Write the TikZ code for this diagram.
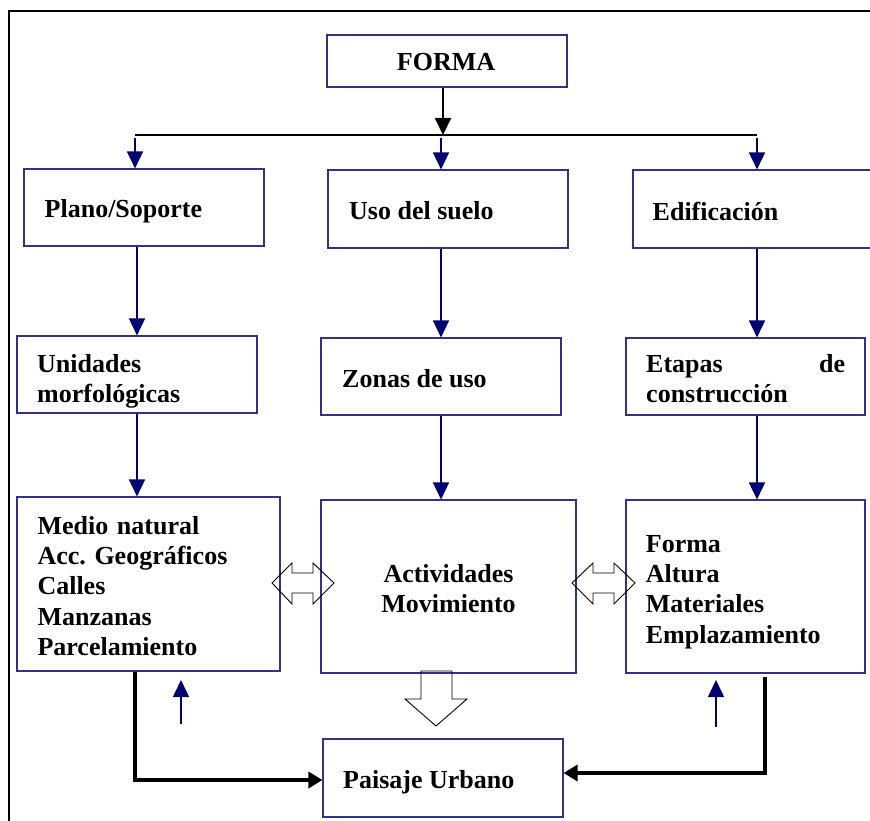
\documentclass[tikz,border=0pt]{standalone}
\usepackage{fontspec}
\setmainfont{Liberation Serif}
\usetikzlibrary{arrows.meta}
\definecolor{boxc}{RGB}{50,50,130}
\definecolor{navyc}{RGB}{0,0,110}
\begin{document}
\frenchspacing
\begin{tikzpicture}[x=1pt,y=-1pt,
  box/.style={draw=boxc,line width=1.1pt,inner sep=0pt,minimum width=240pt,minimum height=77pt},
  txt/.style={inner sep=0pt,anchor=base west,align=left,
    font=\fontsize{26}{30.4}\selectfont\bfseries},
  narr/.style={draw=navyc,line width=1.6pt,-{Triangle[width=16pt,length=17pt]},fill=navyc},
  barr/.style={draw=black,line width=2pt,-{Triangle[width=16pt,length=17pt]}},
  thickarr/.style={draw=black,line width=3.5pt,-{Triangle[width=16pt,length=14pt]}},
  hollow/.style={draw=black,line width=0.9pt}]
\useasboundingbox (0,0) rectangle (870,821);
\fill[white] (0,0) rectangle (870,821);
% frame
\draw[line width=1.2pt] (9,821) -- (9,11) -- (870,11);
% boxes
\node[box,minimum height=52pt] (forma) at (447,61) {};
\node[box] (plano) at (144,207.5) {};
\node[box,minimum height=78pt] (uso) at (448,209) {};
\node[box,minimum width=247pt,minimum height=78pt] (edif) at (756.5,209) {};
\node[box] (unid) at (137,374.5) {};
\node[box] (zonas) at (441,376.5) {};
\node[box,minimum width=239pt] (etapas) at (745.5,376.5) {};
\node[box,minimum width=263pt,minimum height=174pt] (natural) at (148.5,584) {};
\node[box,minimum width=255pt,minimum height=173pt] (act) at (448.5,586.5) {};
\node[box,minimum width=239pt,minimum height=173pt] (edifl) at (745.5,586.5) {};
\node[box,minimum height=78pt] (pais) at (443,778) {};
% texts
\node[txt,anchor=base] (tforma) at (446,70.5) {FORMA};
\node[txt] (tplano) at (44.5,218) {Plano/Soporte};
\node[txt] (tuso) at (349,219.5) {Uso del suelo};
\node[txt] (tedif) at (652.5,220.5) {Edificación};
\node[txt,text width=200pt] (tunid) at (37,372.5) {Unidades\\morfológicas};
\node[txt] (tzonas) at (342,387.5) {Zonas de uso};
\node[txt,text width=199pt] (tetapas) at (646,372.5) {Etapas\hfill de\\construcción};
\node[txt,text width=223pt] (tnatural) at (37.3,534) {Medio natural\\Acc. Geográficos\\Calles\\Manzanas\\Parcelamiento};
\node[txt,text width=215pt,anchor=base,align=center] (tact) at (448.5,582) {Actividades\\Movimiento};
\node[txt,text width=199pt] (tedifl) at (645.7,552) {Forma\\Altura\\Materiales\\Emplazamiento};
\node[txt] (tpais) at (343,788.5) {Paisaje Urbano};
% top distribution
\coordinate (fx) at (443,0);
\coordinate (hl) at (135,135);
\coordinate (hm) at (441,135);
\coordinate (hr) at (757,135);
\draw[line width=2pt] (hl) -- (hr);
\draw[barr] (forma.south -| fx) -- (fx |- hl);
\draw[narr] ([yshift=-3pt]hl) -- (hl |- plano.north);
\draw[narr] ([yshift=-3pt]hm) -- (hm |- uso.north);
\draw[narr] ([yshift=-3pt]hr) -- (hr |- edif.north);
% column arrows
\coordinate (cL) at (137,0);
\coordinate (cM) at (441,0);
\coordinate (cR) at (757,0);
\draw[narr] (cL |- plano.south) -- (cL |- unid.north);
\draw[narr] (cM |- uso.south) -- (cM |- zonas.north);
\draw[narr] (cR |- edif.south) -- (cR |- etapas.north);
\draw[narr] (cL |- unid.south) -- (cL |- natural.north);
\draw[narr] (cM |- zonas.south) -- (cM |- act.north);
\draw[narr] (cR |- etapas.south) -- (cR |- edifl.north);
% hollow double arrows
\draw[hollow] (272,583) -- (292,563) -- (292,573) -- (313,573) -- (313,563) -- (334,583)
  -- (313,604) -- (313,593) -- (292,593) -- (292,604) -- cycle;
\draw[hollow] (572,583) -- (593,563) -- (593,573) -- (614,573) -- (614,563) -- (635,583)
  -- (614,604) -- (614,593) -- (593,593) -- (593,604) -- cycle;
% hollow down arrow
\draw[hollow] (421,671) -- (452,671) -- (452,699) -- (467,699) -- (436,726) -- (405,699)
  -- (421,699) -- cycle;
% elbow arrows
\coordinate (bl) at (135,0);
\coordinate (br) at (765,677);
\draw[thickarr] (bl |- natural.south) |- ([yshift=-2pt]pais.west);
\draw[thickarr] (br) |- ([yshift=5pt]pais.east);
% small up arrows
\coordinate (ul) at (181,724);
\coordinate (ult) at (181,680);
\coordinate (ur) at (716,727);
\coordinate (urt) at (716,680);
\draw[narr] (ul) -- (ult);
\draw[narr] (ur) -- (urt);
\end{tikzpicture}
\end{document}
